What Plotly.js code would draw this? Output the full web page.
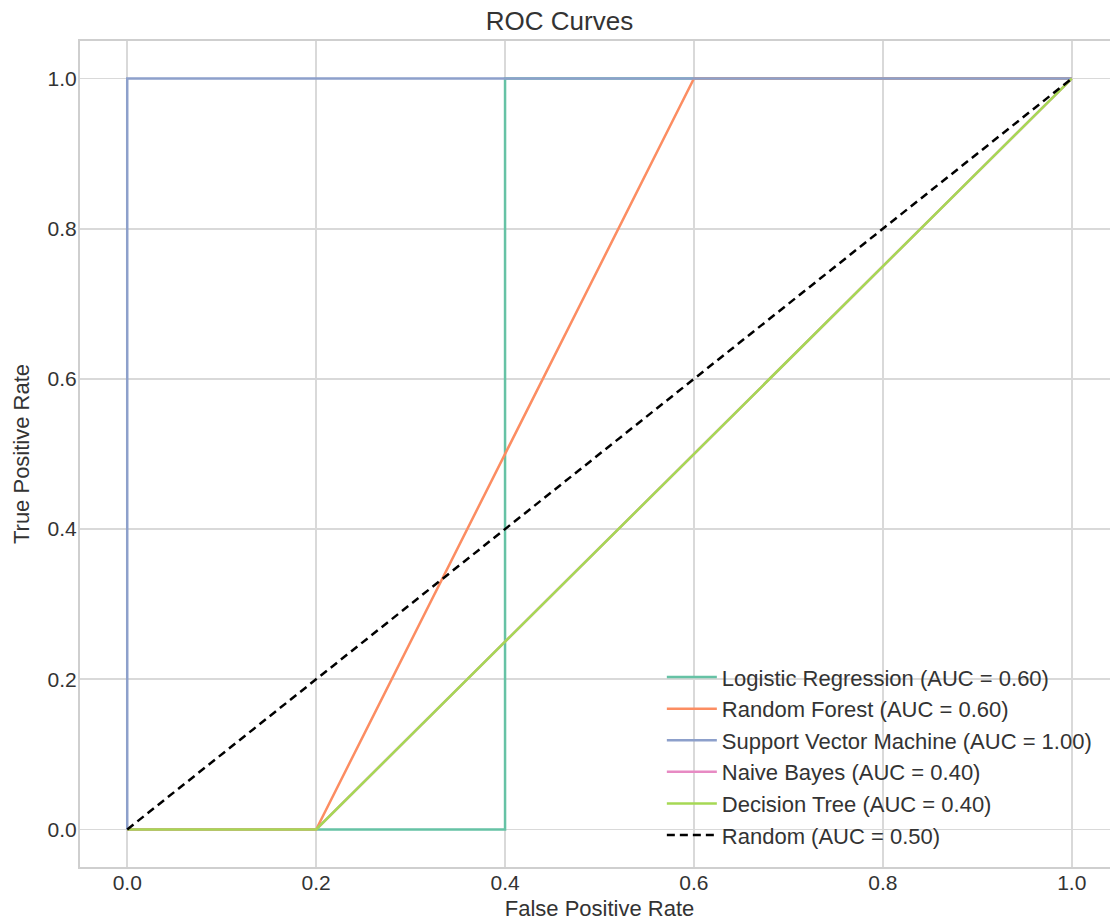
<!DOCTYPE html>
<html>
<head>
<meta charset="utf-8">
<script src="https://cdn.plot.ly/plotly-3.0.1.min.js"></script>
<style>
html,body{margin:0;padding:0;overflow:hidden;background:#fff;}
#chart{width:1119px;height:921px;}
</style>
</head>
<body>
<div id="chart"></div>
<script>
// Data
const seriesNames = ["Logistic Regression (AUC = 0.60)", "Random Forest (AUC = 0.60)", "Support Vector Machine (AUC = 1.00)", "Naive Bayes (AUC = 0.40)", "Decision Tree (AUC = 0.40)"];
const lrFpr = [0, 0.4, 0.4, 1];
const lrTpr = [0, 0, 1, 1];
const rfFpr = [0, 0.2, 0.6, 1];
const rfTpr = [0, 0, 1, 1];
const svmFpr = [0, 0, 1];
const svmTpr = [0, 1, 1];
const nbFpr = [0, 0.2, 1];
const nbTpr = [0, 0, 1];
const dtFpr = [0, 0.2, 1];
const dtTpr = [0, 0, 1];
const randomName = "Random (AUC = 0.50)";
const randomFpr = [0, 1];
const randomTpr = [0, 1];
const tickVals = [0, 0.2, 0.4, 0.6, 0.8, 1.0];

const colors = ["#66c2a5", "#fc8d62", "#8da0cb", "#e78ac3", "#a6d854"];
const xs = [lrFpr, rfFpr, svmFpr, nbFpr, dtFpr];
const ys = [lrTpr, rfTpr, svmTpr, nbTpr, dtTpr];

const traces = seriesNames.map((n, i) => ({
  x: xs[i], y: ys[i], name: n, type: 'scatter', mode: 'lines',
  line: {color: colors[i], width: 2.5}, legendgroup: 'g' + i
}));
traces.push({
  x: randomFpr, y: randomTpr, name: randomName, type: 'scatter', mode: 'lines',
  line: {color: '#000000', width: 2.5, dash: '8px,5px'}, legendgroup: 'g5'
});

const font = {family: '"Liberation Sans", Arial, sans-serif', color: '#333333'};
const axisCommon = {
  tickvals: tickVals, tickformat: '.1f',
  showgrid: true, gridcolor: '#d9d9d9', gridwidth: 1.6,
  zeroline: false, showline: true, linecolor: '#cfcfcf', linewidth: 2, mirror: true,
  ticks: '', ticklen: 0,
  tickfont: {size: 21, color: '#333333'}
};

const layout = {
  width: 1119, height: 921,
  margin: {l: 80, r: 0, t: 41, b: 54},
  paper_bgcolor: '#ffffff', plot_bgcolor: '#ffffff',
  font: font,
  title: {text: 'ROC Curves', font: {size: 26, color: '#333333'}, x: 0.5, xanchor: 'center', y: 0.977, yanchor: 'middle'},
  xaxis: Object.assign({}, axisCommon, {range: [-0.05, 1.05], ticklabelstandoff: -4,
    title: {text: 'False Positive Rate', font: {size: 22, color: '#333333'}, standoff: 9}}),
  yaxis: Object.assign({}, axisCommon, {range: [-0.05, 1.05], ticklabelstandoff: -3,
    title: {text: 'True Positive Rate', font: {size: 22, color: '#333333'}, standoff: 12}}),
  showlegend: true,
  legend: {x: 0.56, xanchor: 'left', y: 0.013, yanchor: 'bottom',
    bgcolor: 'rgba(0,0,0,0)', borderwidth: 0,
    font: {size: 22, color: '#333333'}, traceorder: 'grouped', tracegroupgap: 0, itemwidth: 50}
};

Plotly.newPlot('chart', traces, layout, {displayModeBar: false, staticPlot: true});
</script>
</body>
</html>
